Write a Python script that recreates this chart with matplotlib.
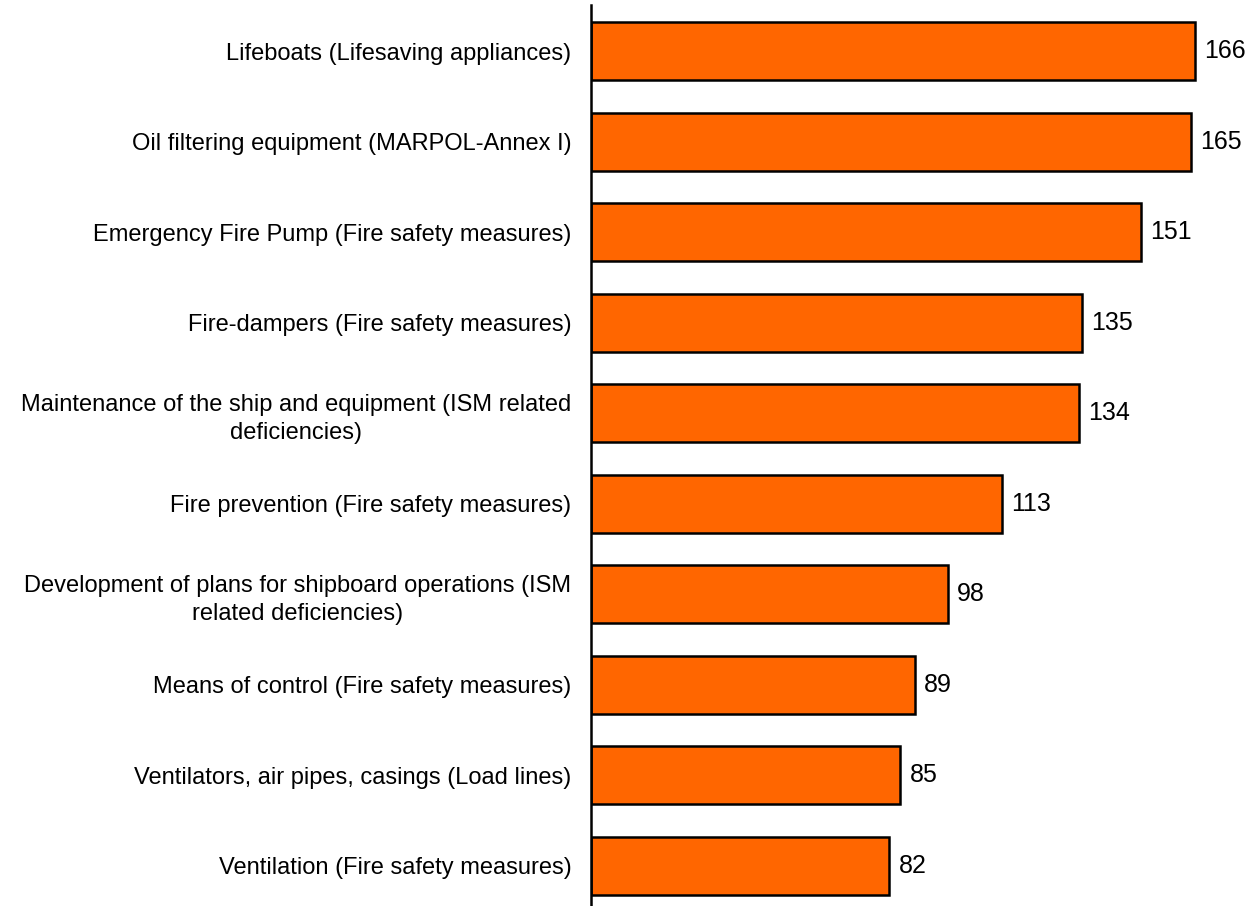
import matplotlib
matplotlib.use("Agg")
import matplotlib.pyplot as plt

categories = [
    "Lifeboats (Lifesaving appliances)",
    "Oil filtering equipment (MARPOL-Annex I)",
    "Emergency Fire Pump (Fire safety measures)",
    "Fire-dampers (Fire safety measures)",
    "Maintenance of the ship and equipment (ISM related\ndeficiencies)",
    "Fire prevention (Fire safety measures)",
    "Development of plans for shipboard operations (ISM\nrelated deficiencies)",
    "Means of control (Fire safety measures)",
    "Ventilators, air pipes, casings (Load lines)",
    "Ventilation (Fire safety measures)",
]
values = [166, 165, 151, 135, 134, 113, 98, 89, 85, 82]

plt.rcParams['font.family'] = ['Liberation Sans', 'DejaVu Sans']

fig = plt.figure(figsize=(12.57, 9.06), dpi=100)
ax = fig.add_axes([591/1257, 0.0, 1 - 591/1257, 1 - 5/906])

pos = list(range(len(categories)))
ax.barh(pos, values, height=0.64, color='#FF6600', edgecolor='black', linewidth=1.8)
for p, v in zip(pos, values):
    ax.text(v + 2.5, p, str(v), va='center', ha='left', fontsize=18)

ax.set_yticks(pos)
ax.set_yticklabels(categories, fontsize=17, ha='right', multialignment='center',
                   linespacing=1.35)
ax.tick_params(axis='y', length=0, pad=14)

ax.set_xlim(0, 183)
ax.set_ylim(9.442, -0.508)
ax.set_xticks([])
for s in ['top', 'right', 'bottom']:
    ax.spines[s].set_visible(False)
ax.spines['left'].set_linewidth(1.8)

fig.savefig('out.png', dpi=100)
